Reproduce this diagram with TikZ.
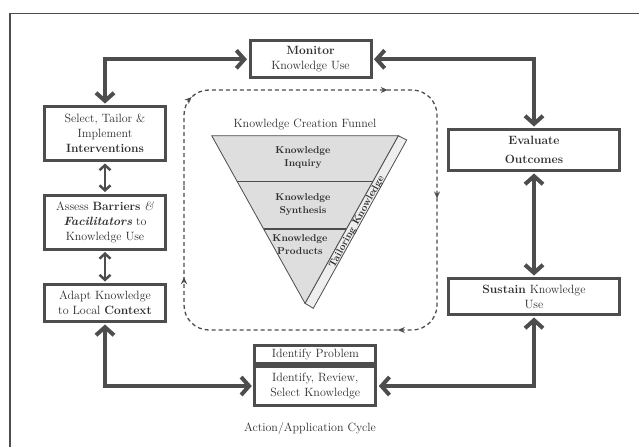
\documentclass[tikz,border=0pt]{standalone}
\usetikzlibrary{arrows.meta,decorations.markings}
\definecolor{ln}{HTML}{4D4D4D}
\definecolor{tx}{HTML}{2E2E2E}
\definecolor{fun}{HTML}{DEDEDE}
\definecolor{bandc}{HTML}{EEEEEE}
\tikzset{
 box/.style={draw=ln, line width=3pt, fill=white, inner sep=0pt, align=center, text=tx, font=\fontsize{12}{15}\selectfont},
 big/.style={draw=ln, line width=4pt, line join=miter, shorten >=1.5pt, shorten <=1.5pt, {Straight Barb[length=8pt,width=18pt]}-{Straight Barb[length=8pt,width=18pt]}},
 small/.style={draw=ln, line width=2.5pt, shorten >=1.5pt, shorten <=1.5pt, {Straight Barb[length=5pt,width=11pt]}-{Straight Barb[length=5pt,width=11pt]}},
 lbl/.style={text=tx, font=\fontsize{12}{15}\selectfont, inner sep=0pt},
 ftext/.style={text=tx, font=\fontsize{10}{13}\selectfont\bfseries, align=center, inner sep=0pt},
}
\begin{document}
\begin{tikzpicture}[x=1pt,y=-1pt]
\useasboundingbox (0,0) rectangle (639,447);
\fill[white] (0,0) rectangle (639,447);
\draw[ln, line width=1.5pt] (10,447) -- (10,13.3) -- (639,13.3);

% dashed loop
\draw[ln, line width=1.3pt, dash pattern=on 4pt off 3pt, rounded corners=25pt,
  postaction={decorate},
  decoration={markings,
    mark=at position 90pt with {\arrow[ln,solid]{Stealth[length=7pt,width=6pt]}},
    mark=at position 288pt with {\arrow[ln,solid]{Stealth[length=7pt,width=6pt]}},
    mark=at position 435pt with {\arrow[ln,solid]{Stealth[length=7pt,width=6pt]}},
    mark=at position 595pt with {\arrow[ln,solid]{Stealth[length=7pt,width=6pt]}},
    mark=at position 851pt with {\arrow[ln,solid]{Stealth[length=7pt,width=6pt]}}}]
  (184,210) -- (184,90) -- (437,90) -- (437,330) -- (184,330) -- cycle;

% funnel
\coordinate (ftl) at (211.7,135.7);
\coordinate (ftr) at (398.3,135.7);
\coordinate (fap) at (305,303.3);
\coordinate (btr) at (406.7,140);
\coordinate (bbt) at (313.3,308.3);
\filldraw[fill=bandc, draw=ln, line width=0.8pt] (ftr) -- (btr) -- (bbt) -- (fap) -- cycle;
\filldraw[fill=fun, draw=ln, line width=0.8pt] (ftl) -- (ftr) -- (fap) -- cycle;
\coordinate (d1l) at (237.3,181.7);
\coordinate (d1r) at (372.7,181.7);
\coordinate (d2l) at (263.6,229);
\coordinate (d2r) at (346.4,229);
\draw[ln, line width=1.2pt] (d1l) -- (d1r);
\draw[ln, line width=1.2pt] (d2l) -- (d2r);
\node[lbl] (ftitle) at (305,125) {Knowledge Creation Funnel};
\node[ftext] (inq) at (303,158) {Knowledge\\Inquiry};
\node[ftext] (syn) at (303,205) {Knowledge\\Synthesis};
\node[ftext] (prod) at (300,244.5) {Knowledge\\Products};
\node[ftext, rotate=61.2] (tk) at (357,222) {Tailoring Knowledge};

% boxes
\node[box, minimum width=121pt, minimum height=37pt] (mon) at (310.5,59.3) {\textbf{Monitor}\\Knowledge Use};
\node[box, minimum width=121pt, minimum height=54pt] (sel) at (105,133.5) {Select, Tailor \&\\Implement\\\textbf{Interventions}};
\node[box, minimum width=121pt, minimum height=54pt] (ass) at (105,222) {Assess \textbf{Barriers} \textit{\&}\\\textbf{\textit{Facilitators}} to\\Knowledge Use};
\node[box, minimum width=121pt, minimum height=37pt] (ada) at (105,303) {Adapt Knowledge\\to Local \textbf{Context}};
\node[box, minimum width=171pt, minimum height=41pt] (eva) at (534,150) {\textbf{Evaluate}\\[4pt]\textbf{Outcomes}};
\node[box, minimum width=171pt, minimum height=36pt] (sus) at (534,296.5) {\textbf{Sustain} Knowledge\\Use};
\node[box, minimum width=121pt, minimum height=18pt] (idp) at (315.3,354.5) {Identify Problem};
\node[box, minimum width=121pt, minimum height=38.7pt] (idr) at (315.3,386) {Identify, Review,\\Select Knowledge};
\node[lbl] (act) at (310,428) {Action/Application Cycle};

% connectors
\draw[big] (mon.west) -| (sel.north);
\draw[big] (mon.east) -| (eva.north);
\draw[big] (eva.south) -- (sus.north);
\draw[big] (sus.south) |- (idr.east);
\draw[big] (ada.south) |- (idr.west);
\draw[small] (sel.south) -- (ass.north);
\draw[small] (ass.south) -- (ada.north);
\end{tikzpicture}
\end{document}
